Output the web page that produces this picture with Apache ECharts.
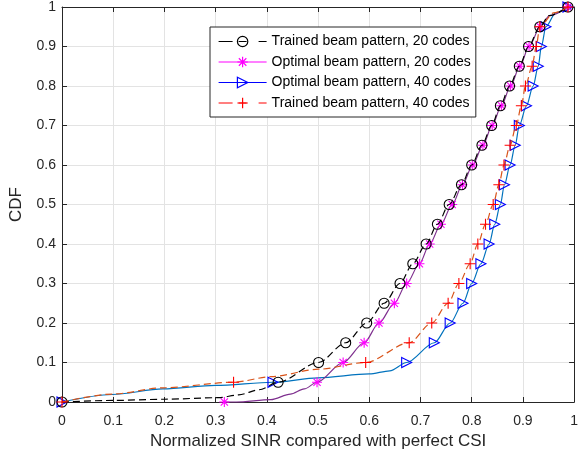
<!DOCTYPE html>
<html><head><meta charset="utf-8">
<script src="https://cdn.jsdelivr.net/npm/echarts@6/dist/echarts.min.js"></script>
<style>html,body{margin:0;padding:0;background:#fff}#c{width:581px;height:457px}</style>
</head><body><div id="c"></div>
<script>
// ---- data ----
const xTicks = [0, 0.1, 0.2, 0.3, 0.4, 0.5, 0.6, 0.7, 0.8, 0.9, 1];
const yTicks = [0, 0.1, 0.2, 0.3, 0.4, 0.5, 0.6, 0.7, 0.8, 0.9, 1];
const seriesNames = [
  'Trained beam pattern, 20 codes',
  'Optimal beam pattern, 20 codes',
  'Optimal beam pattern, 40 codes',
  'Trained beam pattern, 40 codes'
];
// marker levels of the CDF
const markerY = [0, 0.05, 0.1, 0.15, 0.2, 0.25, 0.3, 0.35, 0.4, 0.45, 0.5, 0.55, 0.6, 0.65, 0.7, 0.75, 0.8, 0.85, 0.9, 0.95, 1];
// Trained, 20 codes
const trained20X = [0, 0.422, 0.501, 0.554, 0.595, 0.629, 0.660, 0.685, 0.711, 0.733, 0.756, 0.780, 0.800, 0.820, 0.839, 0.856, 0.874, 0.893, 0.911, 0.933, 0.988];
const trained20ExtraX = [0.1, 0.2, 0.306, 0.345, 0.385, 0.951];
const trained20ExtraY = [0.004, 0.007, 0.011, 0.018, 0.031, 0.978];
// Optimal, 20 codes
const optimal20X = [0.317, 0.498, 0.549, 0.590, 0.619, 0.649, 0.673, 0.698, 0.718, 0.740, 0.762, 0.782, 0.802, 0.822, 0.840, 0.858, 0.876, 0.894, 0.912, 0.934, 0.988];
const optimal20ExtraX = [0.340, 0.408, 0.446, 0.473, 0.952];
const optimal20ExtraY = [0.0, 0.006, 0.02, 0.033, 0.978];
// Optimal, 40 codes
const optimal40X = [0, 0.412, 0.673, 0.727, 0.758, 0.783, 0.800, 0.818, 0.834, 0.845, 0.856, 0.864, 0.875, 0.885, 0.893, 0.907, 0.920, 0.930, 0.936, 0.945, 0.988];
const optimal40ExtraX = [0.098, 0.197, 0.300, 0.500, 0.600, 0.640, 0.964];
const optimal40ExtraY = [0.019, 0.033, 0.042, 0.061, 0.071, 0.079, 0.985];
// Trained, 40 codes
const trained40X = [0, 0.335, 0.593, 0.678, 0.722, 0.754, 0.775, 0.797, 0.812, 0.827, 0.842, 0.853, 0.863, 0.875, 0.887, 0.897, 0.905, 0.918, 0.926, 0.933, 0.988];
const trained40ExtraX = [0.098, 0.197, 0.408, 0.501, 0.960];
const trained40ExtraY = [0.020, 0.036, 0.064, 0.083, 0.985];

// ---- build ----
function build(mx, my, ex, ey) {
  const pts = mx.map((x, i) => ({ value: [x, my[i]] }))
    .concat(ex.map((x, i) => ({ value: [x, ey[i]], symbol: 'none' })));
  pts.sort((a, b) => a.value[0] - b.value[0] || a.value[1] - b.value[1]);
  return pts;
}
const P_CIRCLE = 'path://M1,0A1,1,0,1,1,-1,0A1,1,0,1,1,1,0Z';
const P_STAR = 'path://M0,-1L0,1M-1,0L1,0M-0.72,-0.72L0.72,0.72M-0.72,0.72L0.72,-0.72';
const P_TRI = 'path://M-1,-1L1,0L-1,1Z';
const P_PLUS = 'path://M0,-1L0,1M-1,0L1,0';
const CLEAR = 'rgba(0,0,0,0)';

const defs = [
  { name: seriesNames[0], data: build(trained20X, markerY, trained20ExtraX, trained20ExtraY), line: '#000000', dash: [7, 4], sym: P_CIRCLE, mc: '#000000', size: 10, z: 5 },
  { name: seriesNames[1], data: build(optimal20X, markerY, optimal20ExtraX, optimal20ExtraY), line: '#7E2F8E', dash: 'solid', sym: P_STAR, mc: '#FF00FF', size: 10, z: 4 },
  { name: seriesNames[2], data: build(optimal40X, markerY, optimal40ExtraX, optimal40ExtraY), line: '#0072BD', dash: 'solid', sym: P_TRI, mc: '#0000FF', size: 10, z: 3 },
  { name: seriesNames[3], data: build(trained40X, markerY, trained40ExtraX, trained40ExtraY), line: '#D95319', dash: [7, 4], sym: P_PLUS, mc: '#FF0000', size: 11, z: 6 }
];

const FONT = 'Liberation Sans, Arial, Helvetica, sans-serif';
const series = defs.map(d => ({
  name: d.name, type: 'line', data: d.data, smooth: 0.3, smoothMonotone: 'x',
  clip: false, z: d.z,
  symbol: d.sym, symbolSize: d.size, showAllSymbol: true,
  lineStyle: { color: d.line, width: 1.2, type: d.dash },
  itemStyle: { color: CLEAR, borderColor: d.mc, borderWidth: 1.1 },
  emphasis: { disabled: true }
}));

const legendData = defs.map(d => ({
  name: d.name,
  lineStyle: { color: d.mc, width: 1.2, type: d.dash === 'solid' ? 'solid' : [14, 6, 8, 12, 8, 0] },
  itemStyle: { color: CLEAR, borderColor: d.mc, borderWidth: 1.2 }
}));

const fmt = v => String(+v.toFixed(1));
const chart = echarts.init(document.getElementById('c'), null, { renderer: 'canvas' });
chart.setOption({
  animation: false,
  backgroundColor: '#fff',
  textStyle: { fontFamily: FONT },
  grid: { left: 57, right: 3, top: 7, bottom: 55 },
  legend: {
    orient: 'vertical', left: 210, top: 27,
    padding: [7.5, 5, 7, 8], itemWidth: 48, itemHeight: 13, itemGap: 6.5,
    backgroundColor: '#fff', borderColor: '#262626', borderWidth: 1, borderRadius: 0,
    textStyle: { fontFamily: FONT, fontSize: 14, lineHeight: 13, color: '#000' },
    data: legendData, selectedMode: false
  },
  xAxis: [{
    type: 'value', min: xTicks[0], max: xTicks[xTicks.length - 1], interval: 0.1,
    name: 'Normalized SINR compared with perfect CSI', nameLocation: 'middle', nameGap: 27,
    nameTextStyle: { fontFamily: FONT, fontSize: 17, color: '#262626' },
    axisLine: { onZero: false, lineStyle: { color: '#262626', width: 1 } },
    axisTick: { inside: true, length: 5, lineStyle: { color: '#262626' } },
    axisLabel: { fontFamily: FONT, fontSize: 14, color: '#262626', margin: 12, formatter: fmt, showMinLabel: true, showMaxLabel: true },
    splitLine: { show: true, lineStyle: { color: '#e3e3e3', width: 1 } }
  }, {
    type: 'value', position: 'top', min: 0, max: 1, interval: 0.1,
    axisLine: { onZero: false, lineStyle: { color: '#262626', width: 1 } },
    axisTick: { inside: true, length: 5, lineStyle: { color: '#262626' } },
    axisLabel: { show: false }, splitLine: { show: false }
  }],
  yAxis: [{
    type: 'value', min: yTicks[0], max: yTicks[yTicks.length - 1], interval: 0.1,
    name: 'CDF', nameLocation: 'middle', nameGap: 37,
    nameTextStyle: { fontFamily: FONT, fontSize: 17, color: '#262626' },
    axisLine: { onZero: false, lineStyle: { color: '#262626', width: 1 } },
    axisTick: { inside: true, length: 5, lineStyle: { color: '#262626' } },
    axisLabel: { fontFamily: FONT, fontSize: 14, color: '#262626', margin: 6, formatter: fmt },
    splitLine: { show: true, lineStyle: { color: '#e3e3e3', width: 1 } }
  }, {
    type: 'value', position: 'right', min: 0, max: 1, interval: 0.1,
    axisLine: { onZero: false, lineStyle: { color: '#262626', width: 1 } },
    axisTick: { inside: true, length: 5, lineStyle: { color: '#262626' } },
    axisLabel: { show: false }, splitLine: { show: false }
  }],
  series: series
});
</script>
</body></html>
